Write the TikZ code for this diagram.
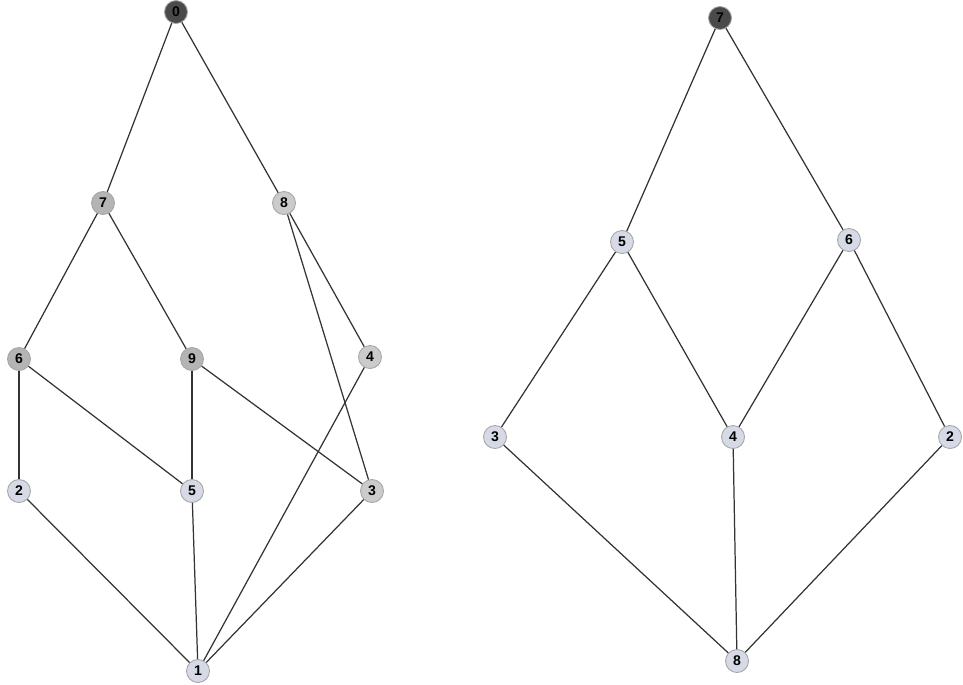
\documentclass[tikz,border=0pt]{standalone}
\usepackage{fontspec}
\setmainfont{Liberation Sans}
\usetikzlibrary{positioning}
\definecolor{darkv}{HTML}{4A4A4A}
\definecolor{midv}{HTML}{B4B4B4}
\definecolor{lightv}{HTML}{CBCBCB}
\definecolor{paleblue}{HTML}{D6DAE6}
\tikzset{
  latv/.style={circle,draw=gray!70,line width=0.5pt,minimum size=0.46cm,inner sep=0pt,font=\fontsize{8}{8}\selectfont\bfseries},
  topv/.style={latv,fill=darkv},
  grayv/.style={latv,fill=midv},
  litev/.style={latv,fill=lightv},
  bluev/.style={latv,fill=paleblue},
  lattedge/.style={draw=black!80,line width=0.7pt}
}

\begin{document}
\begin{tikzpicture}[x=0.02cm,y=-0.02cm]
  \useasboundingbox (0,0) rectangle (963,684);
  % left lattice
  \node[topv] (l0) at (176,12) {0};
  \node[grayv] (l7) at (103,203) {7};
  \node[litev] (l8) at (284,203) {8};
  \node[grayv] (l6) at (19,359) {6};
  \node[grayv] (l9) at (192,359) {9};
  \node[litev] (l4) at (370,357) {4};
  \node[bluev] (l2) at (19,491) {2};
  \node[bluev] (l5) at (192,491) {5};
  \node[litev] (l3) at (372,491) {3};
  \node[bluev] (l1) at (198,671) {1};
  \foreach \a/\b in {l0/l7,l0/l8,l7/l6,l7/l9,l8/l4,l8/l3,l6/l2,l6/l5,l9/l5,l9/l3,l4/l1,l2/l1,l5/l1,l3/l1}
    \draw[lattedge] (\a)--(\b);
  % right lattice
  \node[topv] (r7) at (720,18) {7};
  \node[bluev] (r5) at (622,242) {5};
  \node[bluev] (r6) at (849,240) {6};
  \node[bluev] (r3) at (495,437) {3};
  \node[bluev] (r4) at (733,437) {4};
  \node[bluev] (r2) at (950,437) {2};
  \node[bluev] (r8) at (737,661) {8};
  \foreach \a/\b in {r7/r5,r7/r6,r5/r3,r5/r4,r6/r4,r6/r2,r3/r8,r4/r8,r2/r8}
    \draw[lattedge] (\a)--(\b);
\end{tikzpicture}
\end{document}
